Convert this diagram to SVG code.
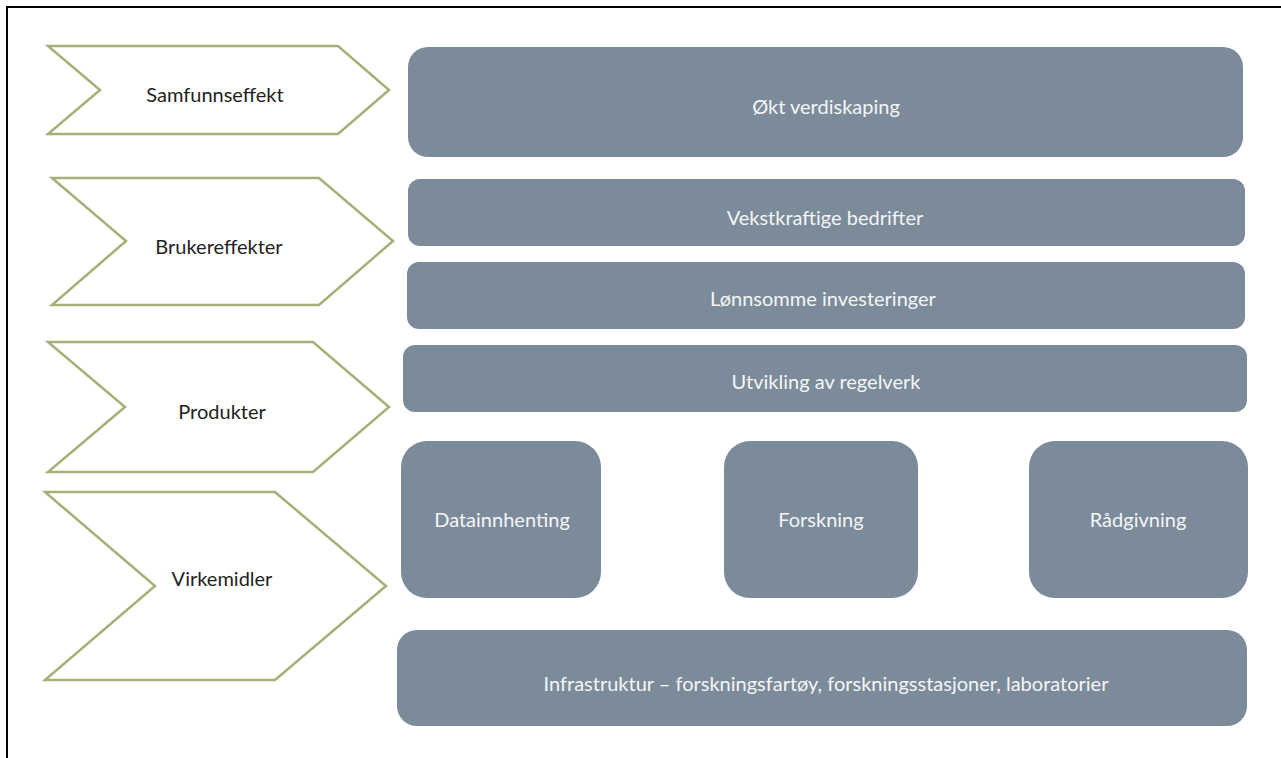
<svg xmlns="http://www.w3.org/2000/svg" width="1281" height="758" viewBox="0 0 1281 758">
<style>
.chev{fill:#ffffff;stroke:#a7af79;stroke-width:2.5;stroke-linejoin:miter}
.box{fill:#7c8b9a}
.lbl{font-family:Lato,"Liberation Sans",sans-serif;font-size:20px;fill:#231f20;text-anchor:middle}
.blbl{font-family:Lato,"Liberation Sans",sans-serif;font-size:20px;fill:#f4f5f6;text-anchor:middle}
</style>
<rect x="0" y="0" width="1281" height="758" fill="#ffffff"/>
<path d="M7,758 V7 H1281" fill="none" stroke="#000000" stroke-width="2"/>
<g id="connectors"/>
<g id="chev-samfunnseffekt">
<polygon class="chev" points="48,46 338,46 389,90 338,134 48,134 100,90"/>
<text class="lbl" x="215" y="102">Samfunnseffekt</text>
</g>
<g id="chev-brukereffekter">
<polygon class="chev" points="52,178 319,178 393,241 319,305 52,305 126,241"/>
<text class="lbl" x="219" y="254">Brukereffekter</text>
</g>
<g id="chev-produkter">
<polygon class="chev" points="48,342 313,342 389,407 313,472 48,472 125,407"/>
<text class="lbl" x="222" y="419">Produkter</text>
</g>
<g id="chev-virkemidler">
<polygon class="chev" points="45,492 275,492 386,586 275,680 45,680 155,586"/>
<text class="lbl" x="222" y="586">Virkemidler</text>
</g>
<g id="box-okt-verdiskaping">
<rect class="box" x="408" y="47" width="835" height="110" rx="20"/>
<text class="blbl" x="826" y="114">Økt verdiskaping</text>
</g>
<g id="box-vekstkraftige">
<rect class="box" x="408" y="179" width="837" height="67" rx="12"/>
<text class="blbl" x="825" y="225">Vekstkraftige bedrifter</text>
</g>
<g id="box-lonnsomme">
<rect class="box" x="407" y="262" width="838" height="67" rx="12"/>
<text class="blbl" x="823" y="306">Lønnsomme investeringer</text>
</g>
<g id="box-regelverk">
<rect class="box" x="403" y="345" width="844" height="67" rx="12"/>
<text class="blbl" x="826" y="389">Utvikling av regelverk</text>
</g>
<g id="box-datainnhenting">
<rect class="box" x="401" y="441" width="200" height="157" rx="26"/>
<text class="blbl" x="502" y="527">Datainnhenting</text>
</g>
<g id="box-forskning">
<rect class="box" x="724" y="441" width="194" height="157" rx="26"/>
<text class="blbl" x="821" y="527">Forskning</text>
</g>
<g id="box-radgivning">
<rect class="box" x="1029" y="441" width="219" height="157" rx="26"/>
<text class="blbl" x="1138" y="527">Rådgivning</text>
</g>
<g id="box-infrastruktur">
<rect class="box" x="397" y="630" width="850" height="96" rx="20"/>
<text class="blbl" x="826" y="691">Infrastruktur – forskningsfartøy, forskningsstasjoner, laboratorier</text>
</g>
</svg>
